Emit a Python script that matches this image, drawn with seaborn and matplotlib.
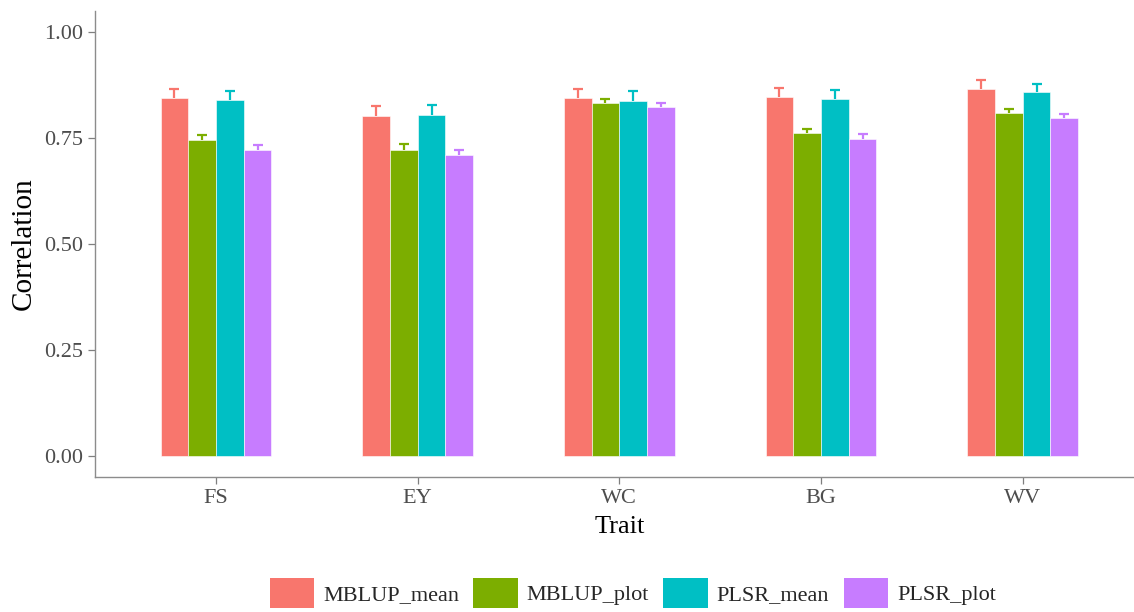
import numpy as np
import pandas as pd
import matplotlib
matplotlib.use("Agg")
import matplotlib.pyplot as plt
import seaborn as sns
from matplotlib.patches import Patch

# values
traits = ["FS", "EY", "WC", "BG", "WV"]
methods = ["MBLUP_mean", "MBLUP_plot", "PLSR_mean", "PLSR_plot"]
mblup_mean = [0.845, 0.803, 0.844, 0.847, 0.867]
mblup_plot = [0.746, 0.723, 0.834, 0.762, 0.809]
plsr_mean = [0.839, 0.805, 0.838, 0.842, 0.858]
plsr_plot = [0.721, 0.709, 0.824, 0.747, 0.798]
mblup_mean_sd = [0.022, 0.023, 0.021, 0.021, 0.020]
mblup_plot_sd = [0.011, 0.012, 0.009, 0.010, 0.010]
plsr_mean_sd = [0.022, 0.024, 0.022, 0.021, 0.020]
plsr_plot_sd = [0.012, 0.013, 0.008, 0.012, 0.010]

colors = ["#F8766D", "#7CAE00", "#00BFC4", "#C77CFF"]

vals = [mblup_mean, mblup_plot, plsr_mean, plsr_plot]
sds = [mblup_mean_sd, mblup_plot_sd, plsr_mean_sd, plsr_plot_sd]
rows = []
for m, v, s in zip(methods, vals, sds):
    for t, vi, si in zip(traits, v, s):
        rows.append({"Trait": t, "Method": m, "Correlation": vi, "sd": si})
df = pd.DataFrame(rows)

sns.set_style("white")
plt.rcParams["font.family"] = ["Liberation Serif", "DejaVu Serif"]

fig = plt.figure(figsize=(11.34, 6.12), dpi=100)
ax = fig.add_axes([95 / 1134, 1 - 477 / 612, 1048.7 / 1134, 466 / 612])

sns.barplot(data=df, x="Trait", y="Correlation", hue="Method", order=traits,
            hue_order=methods, palette=colors, width=0.55, errorbar=None,
            saturation=1, edgecolor="white", linewidth=0.4, legend=False, ax=ax)

# one-sided error bars on top of each bar (upper cap only)
for cont, m, c in zip(ax.containers, methods, colors):
    sub = df[df["Method"] == m].set_index("Trait").loc[traits]
    xs = [b.get_x() + b.get_width() / 2 for b in cont]
    hs = [b.get_height() for b in cont]
    eb = ax.errorbar(xs, hs, yerr=[np.zeros(len(xs)), sub["sd"].values], fmt="none",
                     ecolor=c, elinewidth=1.6, capsize=3.8, capthick=1.6, zorder=3)
    eb[1][0].set_visible(False)

ax.set_xlim(-0.6, 4.6)
ax.set_ylim(-0.05, 1.05)
ax.set_yticks([0, 0.25, 0.5, 0.75, 1.0])
ax.set_yticklabels(["0.00", "0.25", "0.50", "0.75", "1.00"])
ax.tick_params(axis="both", labelsize=16, labelcolor="#4D4D4D", color="#7F7F7F",
               length=5, width=0.9, direction="out", bottom=True, left=True)
for sp in ["top", "right"]:
    ax.spines[sp].set_visible(False)
for sp in ["left", "bottom"]:
    ax.spines[sp].set_color("#8C8C8C")
    ax.spines[sp].set_linewidth(1.0)

ax.set_xlabel("Trait", fontsize=19, color="black", labelpad=6)
ax.set_ylabel("Correlation", fontsize=21, color="black", labelpad=5)

handles = [Patch(facecolor=c, edgecolor="none", label=m) for c, m in zip(colors, methods)]
fig.legend(handles=handles, loc="upper center", bbox_to_anchor=(0.558, 1 - 578 / 612),
           ncol=4, frameon=False, fontsize=16, handlelength=2.0, handleheight=1.7,
           handletextpad=0.4, columnspacing=0.65, borderpad=0, borderaxespad=0)

fig.savefig("out.png", dpi=100)
